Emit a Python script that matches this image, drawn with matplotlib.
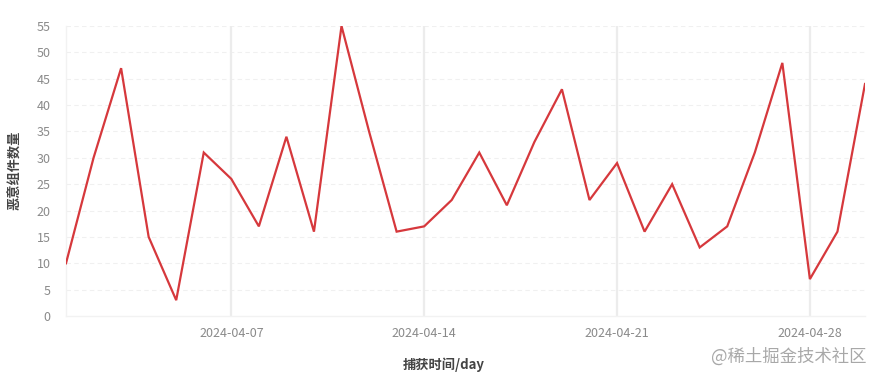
import matplotlib
matplotlib.use("Agg")
import matplotlib.pyplot as plt
import matplotlib.dates as mdates
import numpy as np
import pandas as pd

plt.rcParams['font.family'] = ['Noto Sans CJK SC', 'DejaVu Sans']

dates = pd.date_range("2024-04-01", "2024-04-30", freq="D")
values = [10, 30, 47, 15, 3, 31, 26, 17, 34, 16, 55, 35, 16, 17, 22,
          31, 21, 33, 43, 22, 29, 16, 25, 13, 17, 31, 48, 7, 16, 44]
tick_dates = pd.to_datetime(["2024-04-07", "2024-04-14", "2024-04-21", "2024-04-28"])
y_ticks = list(range(0, 56, 5))

fig = plt.figure(figsize=(8.76, 3.74), dpi=100)
ax = fig.add_axes([66/876, 1-316/374, (865-66)/876, (316-26)/374])

ax.plot(dates, values, color="#d6383c", lw=1.6, zorder=3, solid_joinstyle="miter")

ax.set_xlim(dates[0], dates[-1])
ax.set_ylim(0, 55)
ax.set_yticks(y_ticks)
ax.set_xticks(tick_dates)
ax.xaxis.set_major_formatter(mdates.DateFormatter("%Y-%m-%d"))

for yv in y_ticks[1:]:
    ax.axhline(yv, color="#f0f0f0", lw=0.8, ls=(0, (4, 3)), zorder=1)
for td in tick_dates:
    ax.axvline(td, color="#ececec", lw=1.6, zorder=1)

for s in ["top", "right"]:
    ax.spines[s].set_visible(False)
for s in ["left", "bottom"]:
    ax.spines[s].set_color("#f2f2f2")
    ax.spines[s].set_linewidth(1.0)

ax.tick_params(axis="both", length=0, colors="#8a8a8a", labelsize=9)
ax.tick_params(axis="y", pad=11)
ax.tick_params(axis="x", pad=8)

fig.text(15/876, 1-170/374, "恶意组件数量", rotation=90, ha="center", va="center",
         fontsize=9.5, color="#444444", fontweight="bold")
fig.text(444/876, 1-365/374, "捕获时间/day", ha="center", va="center",
         fontsize=9.5, color="#444444", fontweight="bold")
fig.text(866/876, 1-357/374, "@稀土掘金技术社区", ha="right", va="center",
         fontsize=12.5, color="#a8a8a8")

fig.savefig("out.png", dpi=100)
